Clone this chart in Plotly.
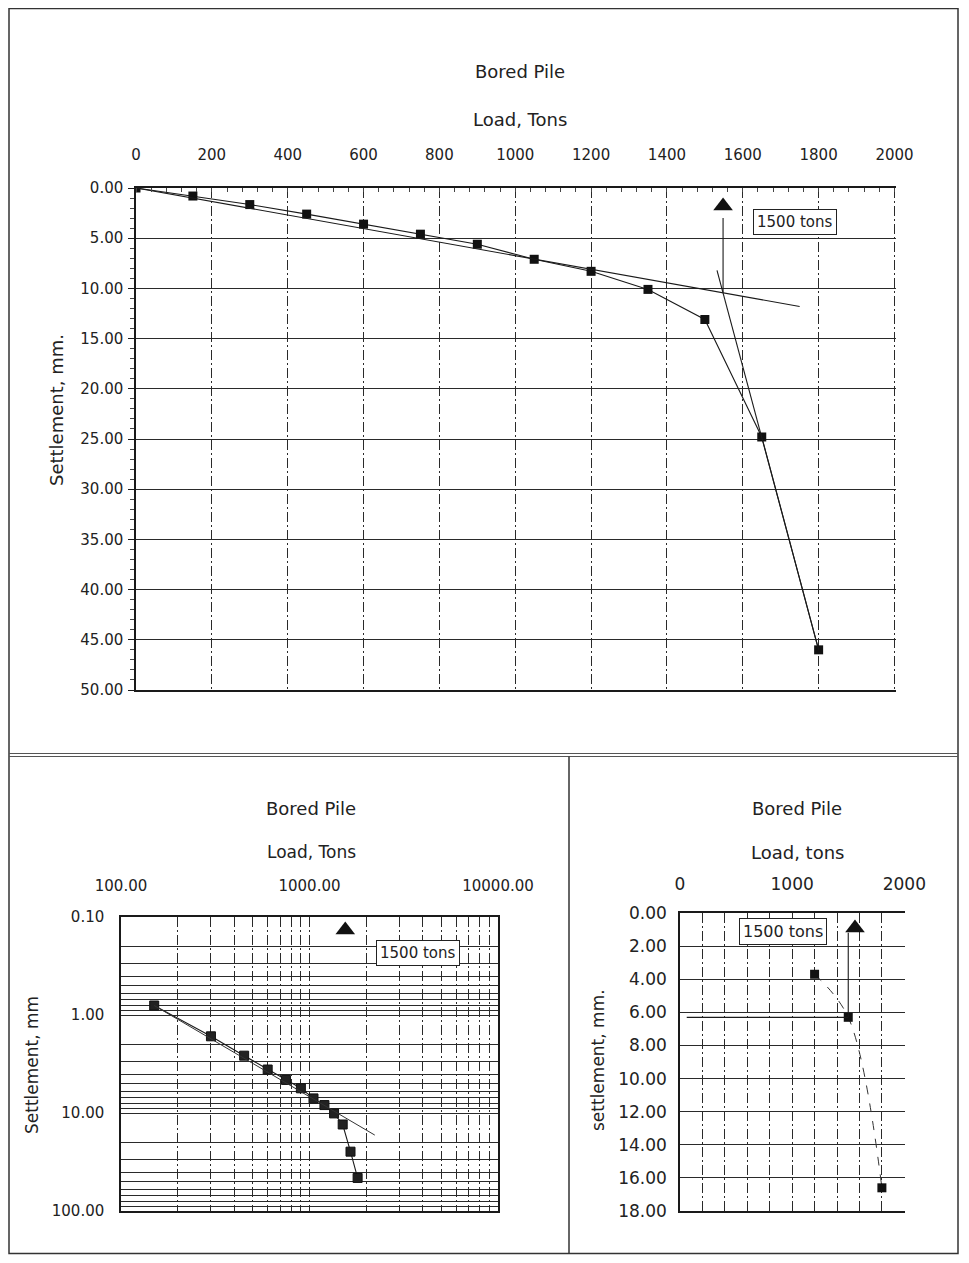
import math
import plotly.graph_objects as go

# ---------------- data ----------------
load_tons = [0, 150, 300, 450, 600, 750, 900, 1050, 1200, 1350, 1500, 1650, 1800]
settlement_mm = [0, 0.8, 1.65, 2.6, 3.6, 4.6, 5.6, 7.1, 8.3, 10.1, 13.1, 24.8, 46.0]

# construction lines on the main chart
tangent_x = [0, 1750]
tangent_y = [0, 11.8]
steep_x = [1532, 1800]
steep_y = [8.2, 46.0]
failure_load = 1548
failure_drop_y = [3.0, 10.4]
failure_marker_y = 1.8
label_text = "1500 tons"

# log-log chart (same test, load > 0)
log_load = load_tons[1:]
log_settle = settlement_mm[1:]
log_trend_x = [150, 2220]
log_trend_y = [0.8, 16.8]
log_marker_y = 0.136

# right chart
r_load = [1200, 1500, 1800]
r_settle = [3.7, 6.3, 16.6]
r_h_x = [60, 1500]
r_h_y = [6.3, 6.3]
r_v_x = [1500, 1500]
r_v_y = [1.2, 6.3]
r_marker_x = 1560
r_marker_y = 0.9

main_xticks = list(range(0, 2001, 200))
log_xticks = [100, 1000, 10000]
log_xtext = ["100.00", "1000.00", "10000.00"]
log_yticks = [0.1, 1, 10, 100]
log_ytext = ["0.10", "1.00", "10.00", "100.00"]
right_xticks = [0, 1000, 2000]

# ---------------- geometry helpers (page has 8px body margin) ----------------
W, H = 953, 1247
def X(px):
    return (px - 8) / W
def Y(py):
    return 1 - (py - 8) / H

FONT = "DejaVu Sans"
INK = "#1a1a1a"
GRID = "#2a2a2a"
DASH = "10px,3px,2px,3px"

fig = go.Figure()

# ---------------- main chart ----------------
fig.add_trace(go.Scatter(x=load_tons, y=settlement_mm, mode="lines+markers",
                         line=dict(color=INK, width=1.1),
                         marker=dict(symbol="square", size=9, color="#111"),
                         xaxis="x", yaxis="y", showlegend=False))
fig.add_trace(go.Scatter(x=tangent_x, y=tangent_y, mode="lines",
                         line=dict(color=INK, width=1.1), xaxis="x", yaxis="y", showlegend=False))
fig.add_trace(go.Scatter(x=steep_x, y=steep_y, mode="lines",
                         line=dict(color=INK, width=1.1), xaxis="x", yaxis="y", showlegend=False))
fig.add_trace(go.Scatter(x=[failure_load, failure_load], y=failure_drop_y, mode="lines",
                         line=dict(color=INK, width=1.1), xaxis="x", yaxis="y", showlegend=False))
fig.add_trace(go.Scatter(x=[failure_load], y=[failure_marker_y], mode="markers",
                         marker=dict(symbol="triangle-up", size=17, color="#111"),
                         xaxis="x", yaxis="y", showlegend=False))

# ---------------- log-log chart ----------------
fig.add_trace(go.Scatter(x=log_load, y=log_settle, mode="lines+markers",
                         line=dict(color=INK, width=1.1),
                         marker=dict(symbol="square", size=9, color="#222",
                                     line=dict(color="#111", width=1)),
                         xaxis="x2", yaxis="y2", showlegend=False))
fig.add_trace(go.Scatter(x=log_trend_x, y=log_trend_y, mode="lines",
                         line=dict(color="#333", width=1), xaxis="x2", yaxis="y2", showlegend=False))
fig.add_trace(go.Scatter(x=[failure_load], y=[log_marker_y], mode="markers",
                         marker=dict(symbol="triangle-up", size=17, color="#111"),
                         xaxis="x2", yaxis="y2", showlegend=False))

# ---------------- right chart ----------------
fig.add_trace(go.Scatter(x=r_load, y=r_settle, mode="lines",
                         line=dict(color="#333", width=1, dash="dash", shape="spline"),
                         xaxis="x3", yaxis="y3", showlegend=False))
fig.add_trace(go.Scatter(x=r_load, y=r_settle, mode="markers",
                         marker=dict(symbol="square", size=9, color="#111"),
                         xaxis="x3", yaxis="y3", showlegend=False))
fig.add_trace(go.Scatter(x=r_h_x, y=r_h_y, mode="lines",
                         line=dict(color=INK, width=1.2), xaxis="x3", yaxis="y3", showlegend=False))
fig.add_trace(go.Scatter(x=r_v_x, y=r_v_y, mode="lines",
                         line=dict(color=INK, width=1.1), xaxis="x3", yaxis="y3", showlegend=False))
fig.add_trace(go.Scatter(x=[r_marker_x], y=[r_marker_y], mode="markers",
                         marker=dict(symbol="triangle-up", size=17, color="#111"),
                         xaxis="x3", yaxis="y3", showlegend=False))

log_minor_x = [m * d for d in (100, 1000) for m in range(2, 10)]
log_minor_y = [m * d for d in (0.1, 1, 10) for m in range(2, 10)]

tf = dict(family=FONT, size=15, color="#222")

fig.update_layout(
    template="none",
    width=W, height=H,
    margin=dict(l=0, r=0, t=0, b=0, autoexpand=False),
    paper_bgcolor="white", plot_bgcolor="white",
    font=dict(family=FONT, color="#222"),
    showlegend=False,
    xaxis=dict(domain=[X(136), X(896)], range=[0, 2004], side="top", anchor="y", automargin=False,
               tickvals=main_xticks, showgrid=True, gridcolor=GRID, griddash=DASH, gridwidth=1,
               showline=True, mirror=True, linecolor=INK, linewidth=1.5, ticks="", zeroline=False,
               tickfont=tf, ticklabelstandoff=20,
               minor=dict(dtick=40, ticks="inside", ticklen=4, tickcolor="#444", showgrid=False)),
    yaxis=dict(domain=[Y(690), Y(188)], range=[50, 0], anchor="x", dtick=5, tickformat=".2f",
               automargin=False,
               showgrid=True, gridcolor=GRID, gridwidth=1.2, showline=True, linecolor=INK,
               linewidth=1.5, ticks="outside", ticklen=6, tickcolor=INK, zeroline=False,
               tickfont=tf, ticklabelstandoff=2,
               minor=dict(dtick=1, ticks="outside", ticklen=4, tickcolor="#444", showgrid=False)),
    xaxis2=dict(type="log", domain=[X(121), X(498)], range=[2, 4], side="top", anchor="y2",
                automargin=False,
                tickvals=log_xticks, ticktext=log_xtext, showgrid=True, gridcolor=GRID,
                griddash=DASH, gridwidth=1, showline=True, mirror=True, linecolor=INK, linewidth=1.5,
                ticks="", tickfont=tf, ticklabelstandoff=18,
                minor=dict(tickvals=log_minor_x, showgrid=True, gridcolor=GRID, griddash=DASH,
                           gridwidth=1, ticks="")),
    yaxis2=dict(type="log", domain=[Y(1211), Y(917)], range=[2, -1], anchor="x2",
                automargin=False,
                tickvals=log_yticks, ticktext=log_ytext, showgrid=True, gridcolor=GRID,
                gridwidth=1.2, showline=True, mirror=True, linecolor=INK, linewidth=1.5, ticks="",
                tickfont=tf, ticklabelstandoff=12,
                minor=dict(tickvals=log_minor_y, showgrid=True, gridcolor=GRID, gridwidth=1.1,
                           ticks="")),
    xaxis3=dict(domain=[X(680), X(905)], range=[0, 2006], side="top", anchor="y3",
                automargin=False,
                tickvals=right_xticks, showgrid=True, gridcolor=GRID, griddash=DASH, gridwidth=1,
                showline=True, mirror=True, linecolor=INK, linewidth=1.5, ticks="", zeroline=False,
                tickfont=dict(family=FONT, size=17, color="#222"), ticklabelstandoff=14,
                minor=dict(dtick=200, showgrid=True, gridcolor=GRID, griddash=DASH, gridwidth=1,
                           ticks="")),
    yaxis3=dict(domain=[Y(1211), Y(913)], range=[18, 0], anchor="x3", dtick=2, tickformat=".2f",
                automargin=False,
                showgrid=True, gridcolor=GRID, gridwidth=1.2, showline=True, linecolor=INK,
                linewidth=1.5, ticks="", zeroline=False,
                tickfont=dict(family=FONT, size=17, color="#222"), ticklabelstandoff=8),
)

def ann(text, px, py, size=17, angle=0):
    fig.add_annotation(text=text, x=X(px), y=Y(py), xref="paper", yref="paper",
                       xanchor="center", yanchor="middle",
                       showarrow=False, textangle=angle,
                       font=dict(family=FONT, size=size, color="#222"))

ann("Bored Pile", 520, 71, 18)
ann("Load, Tons", 520, 119, 18)
ann("Settlement, mm.", 57, 410, 18, -90)
ann("Bored Pile", 311, 808, 18)
ann("Load, Tons", 311, 852, 17)
ann("Settlement, mm", 32, 1065, 17, -90)
ann("Bored Pile", 797, 808, 18)
ann("Load, tons", 797, 852, 18)
ann("settlement, mm.", 598, 1060, 17, -90)

box = dict(bordercolor="#222", borderwidth=1, borderpad=3, bgcolor="white")
fig.add_annotation(text=label_text, x=1738, y=3.4, xref="x", yref="y", showarrow=False,
                   font=dict(family=FONT, size=15, color="#222"), **box)
fig.add_annotation(text=label_text, x=math.log10(3786), y=math.log10(0.233),
                   xref="x2", yref="y2", showarrow=False,
                   font=dict(family=FONT, size=15, color="#222"), **box)
fig.add_annotation(text=label_text, x=915, y=1.1, xref="x3", yref="y3", showarrow=False,
                   font=dict(family=FONT, size=16, color="#222"), **box)

# page frame and dividers
line = dict(color="#333", width=1.5)
fig.add_shape(type="rect", xref="paper", yref="paper", x0=X(9), x1=X(958), y0=Y(1253.5), y1=Y(8.5),
              line=line)
fig.add_shape(type="line", xref="paper", yref="paper", x0=X(9), x1=X(958), y0=Y(753.5), y1=Y(753.5),
              line=dict(color="#555", width=1.2))
fig.add_shape(type="line", xref="paper", yref="paper", x0=X(9), x1=X(958), y0=Y(756.5), y1=Y(756.5),
              line=dict(color="#555", width=1.2))
fig.add_shape(type="line", xref="paper", yref="paper", x0=X(569), x1=X(569), y0=Y(1253.5), y1=Y(756.5),
              line=line)

fig.write_html("out.html")
